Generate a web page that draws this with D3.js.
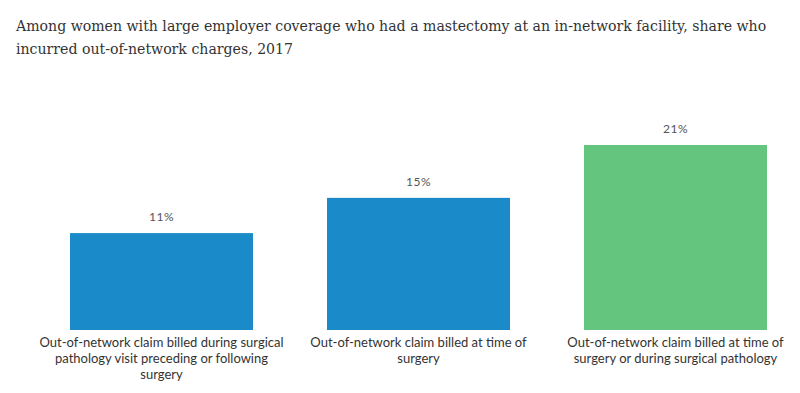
<!DOCTYPE html>
<html>
<head>
<meta charset="utf-8">
<script src="https://cdn.jsdelivr.net/npm/d3@7"></script>
<style>
	body { margin: 0; background: #fff; }
	svg { display: block; }
</style>
</head>
<body>
<svg id="chart"></svg>
<script>
/*************** data *****************/
var titleLines = [
	"Among women with large employer coverage who had a mastectomy at an in-network facility, share who",
	"incurred out-of-network charges, 2017"
];
var categories = [
	"Out-of-network claim billed during surgical pathology visit preceding or following surgery",
	"Out-of-network claim billed at time of surgery",
	"Out-of-network claim billed at time of surgery or during surgical pathology"
];
var values = [11, 15, 21];
var barColors = ["#1a8ac9", "#1a8ac9", "#64c57e"];

/*************** settings *****************/
var width = 800,
	height = 393,
	baseline = 330,
	plotTop = 145,
	titleWidth = 751,	//width of the first title line in the reference
	labelWidth = 245;

var svg = d3.select("#chart")
	.attr("width", width)
	.attr("height", height);

// title
var title = svg.append("g")
	.attr("class", "title")
	.style("font-family", "'DejaVu Serif', serif")
	.style("font-size", "15px")
	.style("fill", "#333");

title.selectAll("text")
	.data(titleLines)
	.enter()
	.append("text")
		.attr("x", 16)
		.attr("y", function(d, i) { return 31 + i * 23; })
		.text(function(d) { return d; });

// shrink the title so the first line fits the same width as the reference
var natural = title.select("text").node().getComputedTextLength();
title.style("font-size", (15 * titleWidth / natural) + "px");

/*************** scales *****************/
var x = d3.scaleBand()
	.domain(categories)
	.range([33, 804])
	.paddingInner(0.288)
	.paddingOuter(0.144);

var y = d3.scaleLinear()
	.domain([0, 21])
	.range([baseline, plotTop]);

/*************** bars *****************/
var bars = svg.append("g").attr("class", "bars")
	.selectAll("rect")
	.data(values)
	.enter();

bars.append("rect")
	.attr("x", function(d, i) { return x(categories[i]); })
	.attr("y", function(d) { return y(d); })
	.attr("width", x.bandwidth())
	.attr("height", function(d) { return baseline - y(d); })
	.attr("fill", function(d, i) { return barColors[i]; });

bars.append("text")
	.attr("x", function(d, i) { return x(categories[i]) + x.bandwidth() / 2; })
	.attr("y", function(d) { return y(d) - 12; })
	.attr("text-anchor", "middle")
	.style("font-family", "Lato, sans-serif")
	.style("font-size", "12px")
	.style("fill", "#555")
	.style("letter-spacing", "0.5px")
	.text(function(d) { return d + "%"; });

/*************** category axis *****************/
var xAxis = d3.axisBottom(x).tickSize(0).tickPadding(0);

var axisG = svg.append("g")
	.attr("transform", "translate(0," + baseline + ")")
	.call(xAxis);

axisG.select(".domain").remove();
axisG.selectAll("text")
	.style("font-family", "Lato, sans-serif")
	.style("font-size", "13px")
	.style("fill", "#333")
	.attr("y", 17)
	.attr("dy", 0)
	.call(wrap, labelWidth);

/*********************** helpers *****************************/
// wraps axis labels into lines of at most the given width
function wrap(texts, w) {
	texts.each(function() {
		var text = d3.select(this),
			words = text.text().split(/\s+/),
			line = [],
			lineNumber = 0,
			tspan = text.text(null).append("tspan").attr("x", 0).attr("y", 17);
		words.forEach(function(word) {
			line.push(word);
			tspan.text(line.join(" "));
			if (tspan.node().getComputedTextLength() > w && line.length > 1) {
				line.pop();
				tspan.text(line.join(" "));
				line = [word];
				lineNumber++;
				tspan = text.append("tspan")
					.attr("x", 0)
					.attr("y", 17 + lineNumber * 16)
					.text(word);
			}
		});
	});
}
</script>
</body>
</html>
